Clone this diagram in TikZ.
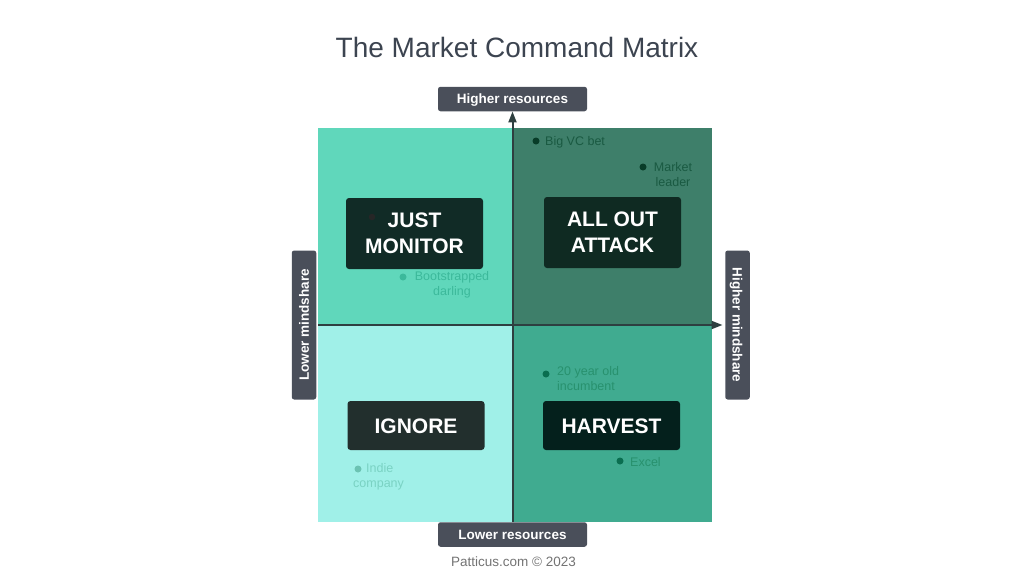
\documentclass[tikz,border=0pt]{standalone}
\usepackage{fontspec}
\setmainfont{Liberation Sans}
\usetikzlibrary{arrows.meta,positioning}
\definecolor{qtl}{HTML}{60D7BB}
\definecolor{qtr}{HTML}{3E7F6A}
\definecolor{qbl}{HTML}{A0F0E8}
\definecolor{qbr}{HTML}{40AB90}
\definecolor{axgray}{HTML}{4A4F5A}
\definecolor{axdark}{HTML}{2E3F40}
\definecolor{titlegray}{HTML}{3C4450}
\definecolor{tagmon}{HTML}{112B26}
\definecolor{tagatt}{HTML}{0F2A22}
\definecolor{tagign}{HTML}{222F2D}
\definecolor{taghar}{HTML}{04201C}
\definecolor{ptr}{HTML}{1A5A42}
\definecolor{ptrdot}{HTML}{083C28}
\definecolor{pbr}{HTML}{28916E}
\definecolor{pbrdot}{HTML}{0A6E50}
\definecolor{pbl}{HTML}{7AD2C3}
\definecolor{pbldot}{HTML}{6CC3B3}
\definecolor{ptl}{HTML}{3CB99B}

\begin{document}
\begin{tikzpicture}[x=1pt,y=-1pt,
  quad/.style={fill=#1,inner sep=0pt,anchor=north west},
  tag/.style={fill=#1,rounded corners=3pt,text=white,inner sep=0pt,
    font=\bfseries\fontsize{21}{26}\selectfont,align=center,minimum width=137pt},
  axl/.style={fill=axgray,rounded corners=2.5pt,text=white,inner sep=0pt,text depth=0pt,
    font=\bfseries\fontsize{13.5}{14}\selectfont,minimum width=149pt,minimum height=24.5pt},
  pt/.style={circle,fill=#1,inner sep=0pt,minimum size=7pt},
  ptlab/.style={font=\fontsize{12.5}{15}\selectfont,text=#1,inner sep=0pt},
  axis/.style={-{Triangle[length=11pt,width=8pt]},line width=2pt,draw=axdark}]
\useasboundingbox (0,0) rectangle (1024,574);
% quadrants
\node[quad=qtl,minimum width=194pt,minimum height=197pt] (tl) at (318,127.5) {};
\node[quad=qtr,minimum width=199.5pt,minimum height=197pt] (tr) at (512,127.5) {};
\node[quad=qbl,minimum width=194pt,minimum height=197pt] (bl) at (318,324.5) {};
\node[quad=qbr,minimum width=199.5pt,minimum height=197pt] (br) at (512,324.5) {};
% axis labels
\node[axl] (hires) at (512.5,99) {Higher resources};
\node[axl] (lores) at (512.5,534.5) {Lower resources};
\node[axl,rotate=90] (lomind) at (304,325) {Lower mindshare};
\node[axl,rotate=-90] (himind) at (737.5,325) {Higher mindshare};
\draw[axis] (lores.north) -- (hires.south);
\draw[axis,shorten >=2.5pt] (tl.west |- lomind) -- (himind.south);
% points
\node[pt=ptrdot] (p1) at (536,141) {};
\node[ptlab=ptr,anchor=west] (l1) at (545,142.5) {Big VC bet};
\node[pt=ptrdot] (p2) at (643,167) {};
\node[ptlab=ptr,align=center] (l2) at (673,175) {Market\\leader};
\node[pt=ptl] (p3) at (403,277) {};
\node[ptlab=ptl,align=center] (l3) at (452,285) {Bootstrapped\\darling};
\node[pt=pbrdot] (p4) at (546,374) {};
\node[ptlab=pbr,align=left,anchor=west] (l4) at (557,379) {20 year old\\incumbent};
\node[pt=pbrdot] (p5) at (620,461) {};
\node[ptlab=pbr,anchor=west] (l5) at (630,462.5) {Excel};
\node[pt=pbldot] (p6) at (358,469) {};
\node[ptlab=pbl,align=left,anchor=north west] (l6) at (353,463) {\hspace*{13pt}Indie\\company};
% quadrant tags
\node[tag=tagmon,minimum height=71pt] (mon) at (414.5,233.5) {JUST\\MONITOR};
\node[tag=tagatt,minimum height=71pt] (att) at (612.5,232.5) {ALL OUT\\ATTACK};
\node[tag=tagign,minimum height=49pt,text height=16pt] (ign) at (416,425.5) {IGNORE};
\node[tag=taghar,minimum height=49pt,text height=16pt] (har) at (611.5,425.5) {HARVEST};
\node[pt=black!85,minimum size=6.5pt] (p0) at (372,217) {};
% title and footer
\node[font=\fontsize{28}{30}\selectfont,text=titlegray] (title) at (517,47) {The Market Command Matrix};
\node[font=\fontsize{13.5}{15}\selectfont,text=black!55] (foot) at (513.5,561.5) {Patticus.com © 2023};
\end{tikzpicture}
\end{document}
